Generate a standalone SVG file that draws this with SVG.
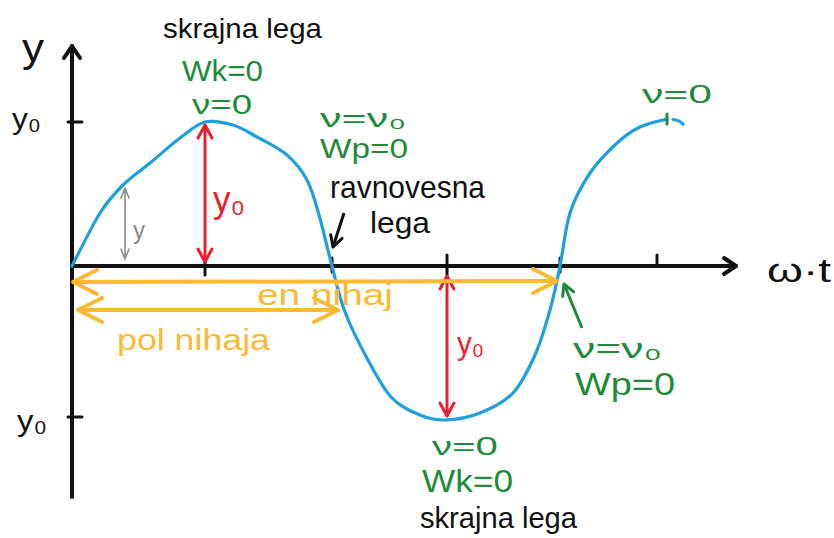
<svg xmlns="http://www.w3.org/2000/svg" width="834" height="538" viewBox="0 0 834 538">
<style>
  text { font-family: "Liberation Sans", "DejaVu Sans", sans-serif; }
  .blk { fill: #111; }
  .grn { fill: #1d8b3a; }
  .red { fill: #e8202f; }
  .yel { fill: #fbb934; }
  .gry { fill: #8a8a8a; }
  .axis { stroke: #111; stroke-width: 4; fill: none; stroke-linecap: round; }
  .tick { stroke: #111; stroke-width: 3; stroke-linecap: round; }
  .wave { stroke: #1ea0dc; stroke-width: 3.2; fill: none; stroke-linecap: round; }
  .ar-red { stroke: #e8202f; stroke-width: 3; fill: none; }
  .ar-yel { stroke: #fbb934; stroke-width: 4; fill: none; }
  .ar-gry { stroke: #8a8a8a; stroke-width: 1.6; fill: none; }
  .ar-blk { stroke: #111; stroke-width: 3; fill: none; }
  .ar-grn { stroke: #1d8b3a; stroke-width: 3; fill: none; }
</style>
<defs>
  <marker id="hBlkAxis" viewBox="0 0 16 20" refX="14" refY="10" markerWidth="16" markerHeight="20" orient="auto" markerUnits="userSpaceOnUse" overflow="visible">
    <path d="M2,2 L14,10 L2,18" fill="none" stroke="#111" stroke-width="4" stroke-linecap="round" stroke-linejoin="round"/>
  </marker>
  <marker id="hRed" viewBox="0 0 16 16" refX="14" refY="8" markerWidth="16" markerHeight="16" orient="auto-start-reverse" markerUnits="userSpaceOnUse" overflow="visible">
    <path d="M1,1 L14,8 L1,15" fill="none" stroke="#e8202f" stroke-width="3" stroke-linecap="round" stroke-linejoin="round"/>
  </marker>
  <marker id="hYel" viewBox="0 0 28 28" refX="26" refY="14" markerWidth="28" markerHeight="28" orient="auto-start-reverse" markerUnits="userSpaceOnUse" overflow="visible">
    <path d="M2,2 L26,14 L2,26" fill="none" stroke="#fbb934" stroke-width="4" stroke-linecap="round" stroke-linejoin="round"/>
  </marker>
  <marker id="hGry" viewBox="0 0 12 10" refX="11" refY="5" markerWidth="12" markerHeight="10" orient="auto-start-reverse" markerUnits="userSpaceOnUse" overflow="visible">
    <path d="M1,1 L11,5 L1,9" fill="none" stroke="#8a8a8a" stroke-width="1.6" stroke-linecap="round" stroke-linejoin="round"/>
  </marker>
  <marker id="hBlk" viewBox="0 0 14 14" refX="12" refY="7" markerWidth="14" markerHeight="14" orient="auto" markerUnits="userSpaceOnUse" overflow="visible">
    <path d="M1,1 L12,7 L1,13" fill="none" stroke="#111" stroke-width="3" stroke-linecap="round" stroke-linejoin="round"/>
  </marker>
  <marker id="hGrn" viewBox="0 0 14 14" refX="12" refY="7" markerWidth="14" markerHeight="14" orient="auto" markerUnits="userSpaceOnUse" overflow="visible">
    <path d="M1,1 L12,7 L1,13" fill="none" stroke="#1d8b3a" stroke-width="3" stroke-linecap="round" stroke-linejoin="round"/>
  </marker>
</defs>
<rect width="834" height="538" fill="#fff"/>

<g id="axes">
  <line class="axis" x1="72" y1="497" x2="72" y2="46" marker-end="url(#hBlkAxis)"/>
  <line class="axis" x1="72" y1="266" x2="736" y2="266" marker-end="url(#hBlkAxis)"/>
  <line class="tick" x1="68" y1="122" x2="82" y2="122"/>
  <line class="tick" x1="68" y1="417" x2="82" y2="417"/>
  <line class="tick" x1="205" y1="259" x2="205" y2="275"/>
  <line class="tick" x1="332" y1="258" x2="332" y2="272"/>
  <line class="tick" x1="447" y1="255" x2="447" y2="275"/>
  <line class="tick" x1="560" y1="258" x2="560" y2="272"/>
  <line class="tick" x1="657" y1="255" x2="657" y2="266"/>
</g>

<g id="wave">
  <path class="wave" d="M72,266 C76.7,257.2 91.5,226.5 100,213 C108.5,199.5 114.7,193.3 123,185 C131.3,176.7 140.5,170.8 150,163 C159.5,155.2 170.8,144.8 180,138 C189.2,131.2 196.2,124.2 205,122 C213.8,119.8 224.3,122.5 233,125 C241.7,127.5 248,132 257,137 C266,142 278.7,147.8 287,155 C295.3,162.2 301.7,170 307,180 C312.3,190 314.8,200.7 319,215 C323.2,229.3 327.7,249.8 332,266 C336.3,282.2 339,296.3 345,312 C351,327.7 360.2,345.7 368,360 C375.8,374.3 383.3,388.8 392,398 C400.7,407.2 411.2,411.3 420,415 C428.8,418.7 435,420.3 445,420 C455,419.7 468.7,417.5 480,413 C491.3,408.5 503.8,402.7 513,393 C522.2,383.3 528.8,368.8 535,355 C541.2,341.2 545.8,324.8 550,310 C554.2,295.2 556.7,282.2 560,266 C563.3,249.8 565,228.5 570,213 C575,197.5 582.2,184.7 590,173 C597.8,161.3 608.7,150.7 617,143 C625.3,135.3 631.7,131 640,127 C648.3,123 662.5,120.3 667,119"/>
  <path class="wave" d="M673,119.5 Q679,120 683,124"/>
  <line x1="667" y1="114" x2="667" y2="124" stroke="#1d8b3a" stroke-width="3" stroke-linecap="round"/>
</g>

<g id="connectors">
  <line class="ar-red" x1="205" y1="125" x2="205" y2="262" marker-start="url(#hRed)" marker-end="url(#hRed)"/>
  <line class="ar-red" x1="447" y1="276" x2="447" y2="416" marker-start="url(#hRed)" marker-end="url(#hRed)"/>
  <line class="ar-gry" x1="125" y1="188" x2="125" y2="259" marker-start="url(#hGry)" marker-end="url(#hGry)"/>
  <line class="ar-yel" x1="73" y1="282" x2="557" y2="281" marker-start="url(#hYel)" marker-end="url(#hYel)"/>
  <line class="ar-yel" x1="78" y1="310" x2="338" y2="310" marker-start="url(#hYel)" marker-end="url(#hYel)"/>
  <line class="ar-blk" x1="344" y1="213" x2="333" y2="247" marker-end="url(#hBlk)"/>
  <line class="ar-grn" x1="582" y1="328" x2="564" y2="284" marker-end="url(#hGrn)"/>
</g>

<g id="label-y-axis"><text class="blk" x="22" y="62" font-size="40" textLength="22" lengthAdjust="spacingAndGlyphs">y</text></g>
<g id="label-y0-top"><text class="blk" x="12" y="129" font-size="30" textLength="29" lengthAdjust="spacingAndGlyphs">y₀</text></g>
<g id="label-y0-bottom"><text class="blk" x="17" y="431" font-size="30" textLength="30" lengthAdjust="spacingAndGlyphs">y₀</text></g>
<g id="label-wt"><text class="blk" x="767" y="282" font-size="34" textLength="64" lengthAdjust="spacingAndGlyphs">ω·t</text></g>

<g id="node-top-extreme">
  <text class="blk" x="163" y="38" font-size="28" textLength="159" lengthAdjust="spacingAndGlyphs">skrajna lega</text>
  <text class="grn" x="182" y="81" font-size="29" textLength="81" lengthAdjust="spacingAndGlyphs">Wk=0</text>
  <text class="grn" x="192" y="114" font-size="27" textLength="60" lengthAdjust="spacingAndGlyphs">ν=0</text>
</g>

<g id="node-equilibrium-1">
  <text class="grn" x="320" y="127" font-size="25" textLength="86" lengthAdjust="spacingAndGlyphs">ν=ν₀</text>
  <text class="grn" x="320" y="158" font-size="28" textLength="88" lengthAdjust="spacingAndGlyphs">Wp=0</text>
  <text class="blk" x="330" y="198" font-size="32" textLength="155" lengthAdjust="spacingAndGlyphs">ravnovesna</text>
  <text class="blk" x="370" y="233" font-size="30" textLength="60" lengthAdjust="spacingAndGlyphs">lega</text>
</g>

<g id="node-top-right">
  <text class="grn" x="642" y="103" font-size="26" textLength="70" lengthAdjust="spacingAndGlyphs">ν=0</text>
</g>

<g id="node-amplitudes">
  <text class="red" x="213" y="212" font-size="36" textLength="32" lengthAdjust="spacingAndGlyphs">y₀</text>
  <text class="red" x="457" y="354" font-size="32" textLength="27" lengthAdjust="spacingAndGlyphs">y₀</text>
  <text class="gry" x="133" y="239" font-size="26" textLength="12" lengthAdjust="spacingAndGlyphs">y</text>
</g>

<g id="node-periods">
  <text class="yel" x="257" y="305" font-size="30" textLength="136" lengthAdjust="spacingAndGlyphs">en nihaj</text>
  <text class="yel" x="117" y="350" font-size="30" textLength="153" lengthAdjust="spacingAndGlyphs">pol nihaja</text>
</g>

<g id="node-equilibrium-2">
  <text class="grn" x="573" y="358" font-size="27" textLength="89" lengthAdjust="spacingAndGlyphs">ν=ν₀</text>
  <text class="grn" x="575" y="395" font-size="31" textLength="100" lengthAdjust="spacingAndGlyphs">Wp=0</text>
</g>

<g id="node-bottom-extreme">
  <text class="grn" x="432" y="455" font-size="26" textLength="66" lengthAdjust="spacingAndGlyphs">ν=0</text>
  <text class="grn" x="422" y="492" font-size="32" textLength="91" lengthAdjust="spacingAndGlyphs">Wk=0</text>
  <text class="blk" x="420" y="528" font-size="30" textLength="157" lengthAdjust="spacingAndGlyphs">skrajna lega</text>
</g>
</svg>
